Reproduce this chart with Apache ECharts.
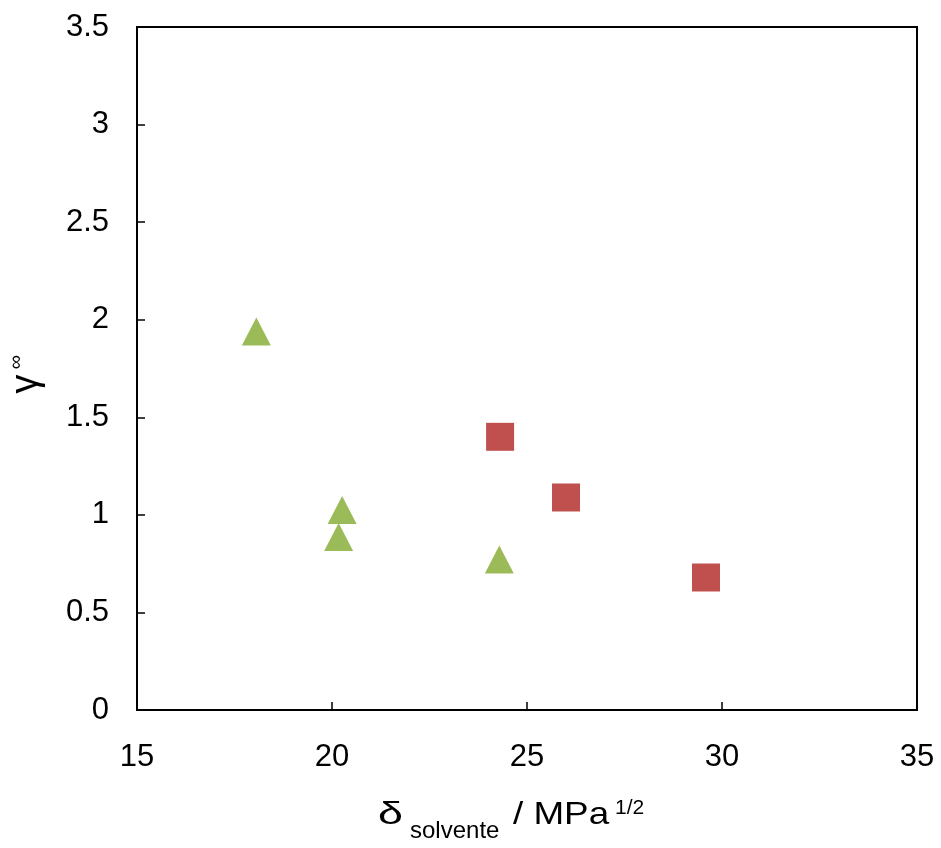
<!DOCTYPE html>
<html>
<head>
<meta charset="utf-8">
<script src="https://cdn.jsdelivr.net/npm/echarts@6/dist/echarts.min.js"></script>
<style>html,body{margin:0;padding:0;background:#fff}#c{width:941px;height:848px}</style>
</head>
<body>
<div id="c"></div>
<script>
// Data
var triangleX = [18.06, 20.26, 20.17, 24.29];
var triangleY = [1.94, 1.025, 0.887, 0.771];
var squareX = [24.31, 26.00, 29.59];
var squareY = [1.40, 1.089, 0.679];
var xTicks = [15, 20, 25, 30, 35];
var yTicks = [0, 0.5, 1, 1.5, 2, 2.5, 3, 3.5];

function pairs(xs, ys) { return xs.map(function (x, i) { return [x, ys[i]]; }); }

var FONT = '"Liberation Sans", Arial, sans-serif';
var chart = echarts.init(document.getElementById('c'));
chart.setOption({
  animation: false,
  backgroundColor: '#fff',
  grid: { left: 137, right: 24, top: 27, bottom: 138, show: true, borderColor: '#000', borderWidth: 2 },
  xAxis: {
    type: 'value', min: xTicks[0], max: xTicks[xTicks.length - 1], interval: 5,
    axisLine: { show: true, lineStyle: { color: '#000', width: 2 } },
    axisTick: { show: true, inside: true, length: 8, lineStyle: { color: '#000', width: 1.5 } },
    axisLabel: { color: '#000', fontSize: 31, fontFamily: FONT, margin: 32 },
    splitLine: { show: false }
  },
  yAxis: {
    type: 'value', min: yTicks[0], max: yTicks[yTicks.length - 1], interval: 0.5,
    axisLine: { show: true, lineStyle: { color: '#000', width: 2 } },
    axisTick: { show: true, inside: true, length: 8, lineStyle: { color: '#000', width: 1.5 } },
    axisLabel: { color: '#000', fontSize: 31, fontFamily: FONT, margin: 28, padding: [8, 0, 0, 0] },
    splitLine: { show: false }
  },
  series: [
    {
      type: 'scatter', symbol: 'triangle', symbolSize: [29, 28],
      itemStyle: { color: '#9BBB59', opacity: 1 },
      data: pairs(triangleX, triangleY)
    },
    {
      type: 'scatter', symbol: 'rect', symbolSize: 28,
      itemStyle: { color: '#C0504D', opacity: 1 },
      data: pairs(squareX, squareY)
    }
  ],
  graphic: [
    { type: 'text', x: 378, y: 815, scaleX: 1.4,
      style: { text: 'δ', font: '32px ' + FONT, fill: '#000', textAlign: 'left', textVerticalAlign: 'middle' } },
    { type: 'text', x: 410, y: 831,
      style: { text: 'solvente', font: '24px ' + FONT, fill: '#000', textAlign: 'left', textVerticalAlign: 'middle' } },
    { type: 'text', x: 513, y: 815, scaleX: 1.15,
      style: { text: '/ MPa', font: '32px ' + FONT, fill: '#000', textAlign: 'left', textVerticalAlign: 'middle' } },
    { type: 'text', x: 615, y: 808,
      style: { text: '1/2', font: '21px ' + FONT, fill: '#000', textAlign: 'left', textVerticalAlign: 'middle' } },
    { type: 'text', x: 27, y: 384, rotation: Math.PI / 2,
      style: { text: 'γ', font: '38px ' + FONT, fill: '#000', textAlign: 'center', textVerticalAlign: 'middle' } },
    { type: 'text', x: 16, y: 362, rotation: Math.PI / 2,
      style: { text: '∞', font: '20px ' + FONT, fill: '#000', textAlign: 'center', textVerticalAlign: 'middle' } }
  ]
});
</script>
</body>
</html>
